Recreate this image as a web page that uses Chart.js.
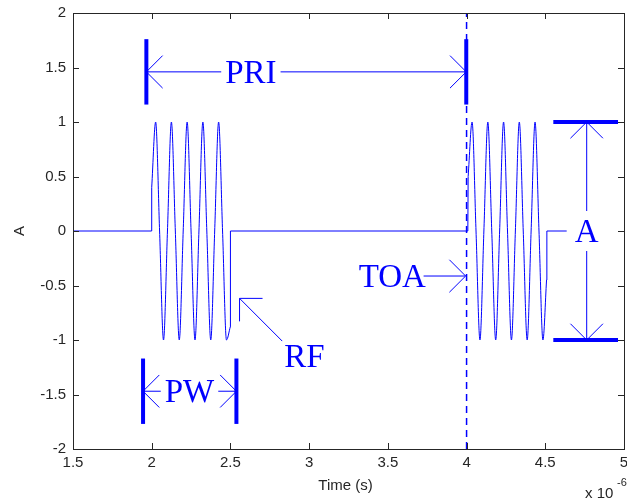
<!DOCTYPE html>
<html lang="en">
<head>
<meta charset="UTF-8">
<title>Pulse Parameters</title>
<script src="https://cdn.jsdelivr.net/npm/chart.js"></script>
<style>
    body { margin: 0; background: #fff; }
    canvas { display: block; }
</style>
</head>
<body>
<canvas id="pulseChart" width="627" height="501"></canvas>
<script>
    // time in microseconds (axis is scaled x 10^-6 s), amplitude A
    const xTickVals = [1.5, 2, 2.5, 3, 3.5, 4, 4.5, 5];
    const yTickVals = [-2, -1.5, -1, -0.5, 0, 0.5, 1, 1.5, 2];

    // quiet stretches between the pulses
    const idle1T = [1.5, 1.998, 2.0];
    const idle1A = [0, 0, 0.4];
    const idle2T = [2.499, 2.5, 4.008, 4.01];
    const idle2A = [-0.88, 0, 0, 0.5];
    const idle3T = [4.508, 4.51, 4.636];
    const idle3A = [-0.45, 0, 0];

    // RF carrier inside each pulse (crests, zero crossings, troughs)
    const pulse1T = [2.0, 2.025, 2.05, 2.075, 2.1, 2.125, 2.15, 2.175, 2.2, 2.225, 2.25,
        2.275, 2.3, 2.325, 2.35, 2.375, 2.4, 2.425, 2.45, 2.475, 2.499];
    const pulse1A = [0.4, 1, 0, -1, 0, 1, 0, -1, 0, 1, 0, -1, 0, 1, 0, -1, 0, 1, 0, -1, -0.88];
    const pulse2T = [4.01, 4.035, 4.06, 4.085, 4.11, 4.135, 4.16, 4.185, 4.21, 4.235, 4.26,
        4.285, 4.31, 4.335, 4.36, 4.385, 4.41, 4.435, 4.46, 4.485, 4.508];
    const pulse2A = [0.5, 1, 0, -1, 0, 1, 0, -1, 0, 1, 0, -1, 0, 1, 0, -1, 0, 1, 0, -1, -0.45];

    // time of arrival marker
    const toaTime = 4.0;

    // annotation geometry in data units
    const priBars = [1.966, 3.998];
    const priBarSpan = [1.16, 1.76];
    const priLevel = 1.46;
    const pwBars = [1.945, 2.538];
    const pwBarSpan = [-1.17, -1.77];
    const pwLevel = -1.47;
    const ampLevels = [1, -1];
    const ampBarSpan = [4.551, 4.962];
    const ampX = 4.763;
    const toaArrow = [[3.727, -0.413], [3.994, -0.413]];
    const rfArrow = [[2.829, -1.01], [2.558, -0.618]];
    const tagText = ['PRI', 'PW', 'RF', 'TOA', 'A'];
    const tagX = [2.63, 2.24, 2.97, 3.528, ampX];
    const tagY = [priLevel, pwLevel, -1.148, -0.413, 0];
    const tagBoxed = [true, true, false, false, true];

    const blue = '#0000ff';
    const ink = '#262626';
    const serif = '33px "Liberation Serif", "Times New Roman", serif';

    function toPoints(ts, as) {
        return ts.map((t, i) => ({ x: t, y: as[i] }));
    }

    function seg(ctx, x1, y1, x2, y2, width) {
        ctx.lineWidth = width;
        ctx.beginPath();
        ctx.moveTo(x1, y1);
        ctx.lineTo(x2, y2);
        ctx.stroke();
    }

    // open V arrow head at (tx, ty), pointing away from (fx, fy)
    function arrowHead(ctx, tx, ty, fx, fy) {
        const ang = Math.atan2(ty - fy, tx - fx);
        const len = 23;
        [Math.PI / 4, -Math.PI / 4].forEach(d => {
            const a = ang + Math.PI + d;
            seg(ctx, tx, ty, tx + len * Math.cos(a), ty + len * Math.sin(a), 1);
        });
    }

    function tag(ctx, text, cx, cy, boxed) {
        ctx.font = serif;
        const w = ctx.measureText(text).width;
        const cap = 22;
        if (boxed) {
            ctx.fillStyle = '#fff';
            ctx.fillRect(cx - w / 2 - 4, cy - cap / 2 - 9, w + 8, cap + 18);
        }
        ctx.fillStyle = blue;
        ctx.textAlign = 'center';
        ctx.textBaseline = 'alphabetic';
        ctx.fillText(text, cx, cy + cap / 2);
    }

    const annotations = {
        id: 'annotations',
        afterDatasetsDraw(chart) {
            const { ctx, scales: { x, y } } = chart;
            const px = v => x.getPixelForValue(v);
            const py = v => y.getPixelForValue(v);
            ctx.save();
            ctx.strokeStyle = blue;
            ctx.lineCap = 'butt';

            // PRI: bars, double arrow
            priBars.forEach(b => seg(ctx, px(b), py(priBarSpan[0]), px(b), py(priBarSpan[1]), 4));
            const pl = px(priBars[0]), pr = px(priBars[1]), pY = py(priLevel);
            seg(ctx, pl, pY, pr, pY, 1);
            arrowHead(ctx, pl, pY, pr, pY);
            arrowHead(ctx, pr, pY, pl, pY);

            // PW: bars, double arrow
            pwBars.forEach(b => seg(ctx, px(b), py(pwBarSpan[0]), px(b), py(pwBarSpan[1]), 4));
            const wl = px(pwBars[0]), wr = px(pwBars[1]), wY = py(pwLevel);
            seg(ctx, wl, wY, wr, wY, 1);
            arrowHead(ctx, wl, wY, wr, wY);
            arrowHead(ctx, wr, wY, wl, wY);

            // amplitude: horizontal bars at +/-1, vertical double arrow
            ampLevels.forEach(l => seg(ctx, px(ampBarSpan[0]), py(l), px(ampBarSpan[1]), py(l), 4));
            const ax = px(ampX), at = py(ampLevels[0]), ab = py(ampLevels[1]);
            seg(ctx, ax, at, ax, ab, 1);
            arrowHead(ctx, ax, at, ax, ab);
            arrowHead(ctx, ax, ab, ax, at);

            // single arrows for TOA and RF
            [toaArrow, rfArrow].forEach(([from, to]) => {
                const fx = px(from[0]), fy = py(from[1]), tx = px(to[0]), ty = py(to[1]);
                seg(ctx, fx, fy, tx, ty, 1);
                arrowHead(ctx, tx, ty, fx, fy);
            });

            tagText.forEach((t, i) => tag(ctx, t, px(tagX[i]), py(tagY[i]), tagBoxed[i]));
            ctx.restore();
        }
    };

    // MATLAB-style box with inward ticks, axis titles and exponent
    const axesFrame = {
        id: 'axesFrame',
        afterDraw(chart) {
            const { ctx, chartArea: a, scales: { x, y } } = chart;
            const h = v => Math.round(v) + 0.5;
            const tick = 6;
            ctx.save();
            ctx.strokeStyle = ink;
            ctx.lineWidth = 1;
            ctx.strokeRect(h(a.left), h(a.top), Math.round(a.right) - Math.round(a.left), Math.round(a.bottom) - Math.round(a.top));
            ctx.beginPath();
            xTickVals.forEach(v => {
                const p = h(x.getPixelForValue(v));
                ctx.moveTo(p, a.bottom); ctx.lineTo(p, a.bottom - tick);
                ctx.moveTo(p, a.top); ctx.lineTo(p, a.top + tick);
            });
            yTickVals.forEach(v => {
                const p = h(y.getPixelForValue(v));
                ctx.moveTo(a.left, p); ctx.lineTo(a.left + tick, p);
                ctx.moveTo(a.right, p); ctx.lineTo(a.right - tick, p);
            });
            ctx.stroke();

            ctx.fillStyle = ink;
            ctx.font = '15px "Liberation Sans", Arial, sans-serif';
            ctx.textAlign = 'center';
            ctx.textBaseline = 'middle';
            ctx.fillText('Time (s)', (a.left + a.right) / 2 - 3, 486);

            ctx.save();
            ctx.translate(20, (a.top + a.bottom) / 2);
            ctx.rotate(-Math.PI / 2);
            ctx.fillText('A', 0, 0);
            ctx.restore();

            ctx.textAlign = 'left';
            ctx.fillText('x 10', 585, 494);
            ctx.font = '11px "Liberation Sans", Arial, sans-serif';
            ctx.fillText('-6', 617, 483);
            ctx.restore();
        }
    };

    const lineStyle = {
        borderColor: blue,
        borderWidth: 1,
        pointRadius: 0,
        fill: false
    };

    new Chart(document.getElementById('pulseChart'), {
        type: 'line',
        data: {
            datasets: [
                { ...lineStyle, data: toPoints(idle1T, idle1A) },
                { ...lineStyle, data: toPoints(pulse1T, pulse1A), cubicInterpolationMode: 'monotone' },
                { ...lineStyle, data: toPoints(idle2T, idle2A) },
                { ...lineStyle, data: toPoints(pulse2T, pulse2A), cubicInterpolationMode: 'monotone' },
                { ...lineStyle, data: toPoints(idle3T, idle3A) },
                { ...lineStyle, data: [{ x: toaTime, y: -2 }, { x: toaTime, y: 2 }], borderDash: [7, 5], borderWidth: 1.5 }
            ]
        },
        options: {
            responsive: false,
            animation: false,
            layout: { padding: { left: 0, right: 3, top: 13, bottom: 0 } },
            plugins: { legend: { display: false }, tooltip: { enabled: false } },
            scales: {
                x: {
                    type: 'linear',
                    min: 1.5,
                    max: 5,
                    grid: { display: false, drawTicks: false },
                    border: { display: false },
                    afterBuildTicks: s => { s.ticks = xTickVals.map(v => ({ value: v })); },
                    afterFit: s => { s.height = 52; s.paddingLeft = 0; s.paddingRight = 0; },
                    ticks: {
                        autoSkip: false,
                        maxRotation: 0,
                        padding: 5,
                        color: ink,
                        font: { family: '"Liberation Sans", Arial, sans-serif', size: 15 },
                        callback: v => String(v)
                    }
                },
                y: {
                    min: -2,
                    max: 2,
                    grid: { display: false, drawTicks: false },
                    border: { display: false },
                    afterBuildTicks: s => { s.ticks = yTickVals.map(v => ({ value: v })); },
                    afterFit: s => { s.width = 73; s.paddingTop = 0; s.paddingBottom = 0; },
                    ticks: {
                        autoSkip: false,
                        padding: 7,
                        color: ink,
                        font: { family: '"Liberation Sans", Arial, sans-serif', size: 15 },
                        callback: v => String(v)
                    }
                }
            }
        },
        plugins: [annotations, axesFrame]
    });
</script>
</body>
</html>
